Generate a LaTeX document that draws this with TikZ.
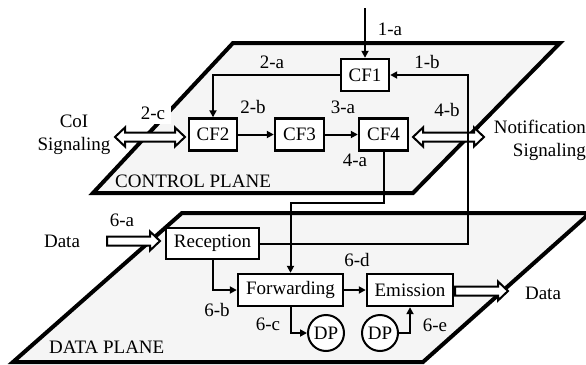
\documentclass[tikz,border=0pt]{standalone}
\usepackage{fontspec}
\setmainfont{Liberation Serif}
\usetikzlibrary{arrows.meta,calc}
\definecolor{planefill}{RGB}{245,245,245}
\newcommand\hollowR[2]{\draw[hollow] let \p1=(#1), \p2=(#2) in
  (\x1,\y1+4.5pt) -- (\x2-10pt,\y1+4.5pt) -- (\x2-10pt,\y1+9.5pt) -- (\x2,\y1) --
  (\x2-10pt,\y1-9.5pt) -- (\x2-10pt,\y1-4.5pt) -- (\x1,\y1-4.5pt) -- cycle;}
\newcommand\hollowLR[2]{\draw[hollow] let \p1=(#1), \p2=(#2) in
  (\x1,\y1) -- (\x1+10pt,\y1+9.5pt) -- (\x1+10pt,\y1+4.5pt) -- (\x2-10pt,\y1+4.5pt) -- (\x2-10pt,\y1+9.5pt) -- (\x2,\y1) --
  (\x2-10pt,\y1-9.5pt) -- (\x2-10pt,\y1-4.5pt) -- (\x1+10pt,\y1-4.5pt) -- (\x1+10pt,\y1-9.5pt) -- cycle;}
\begin{document}
\begin{tikzpicture}[x=1pt,y=-1pt,font=\fontsize{19}{23}\selectfont,
  plane/.style={fill=planefill,draw=black,line width=4pt},
  fbox/.style={draw,line width=2.4pt,fill=white,minimum height=32pt,inner sep=2pt},
  lbl/.style={inner sep=1pt},
  conn/.style={line width=2pt,-{Triangle[length=7pt,width=7pt]}},
  hollow/.style={draw,line width=2pt,fill=white,line join=miter},
  dpc/.style={circle,draw,line width=2pt,fill=white,minimum size=36pt,inner sep=0pt}]
\useasboundingbox (0,0) rectangle (586,364);
% planes
\draw[plane] (182,213) -- (590,213) -- (423,362) -- (13,362) -- cycle;
\draw[plane] (233,43) -- (560,43) -- (413,193) -- (93,193) -- cycle;
\node[anchor=west,inner sep=0pt] (cpl) at (115,181) {CONTROL PLANE};
\node[anchor=west,inner sep=0pt] (dpl) at (49,347) {DATA PLANE};
% white-backed labels
\node[fill=white,inner sep=0pt,minimum width=36pt,minimum height=22pt] (l2c) at (153,113) {2-c};
\node[fill=white,align=right,anchor=east,inner sep=3pt] (notif) at (589,140) {Notification\\Signaling};
\node[align=center,inner sep=0pt] (coi) at (74,135) {CoI\\Signaling};
\node[inner sep=0pt] (dataL) at (62,241) {Data};
\node[inner sep=0pt] (dataR) at (543,293) {Data};
% boxes
\node[fbox,minimum width=48pt] (cf1) at (365,75) {CF1};
\node[fbox,minimum width=48pt] (cf2) at (213,134.5) {CF2};
\node[fbox,minimum width=49pt] (cf3) at (299.5,134.5) {CF3};
\node[fbox,minimum width=49pt] (cf4) at (383.5,134.5) {CF4};
\node[fbox,minimum width=93pt,minimum height=31pt] (rec) at (212.5,243.5) {Reception};
\node[fbox,minimum width=105pt] (fwd) at (290.5,290) {Forwarding};
\node[fbox,minimum width=86pt] (emi) at (410,290) {Emission};
\node[dpc] (dp1) at (326,333) {DP};
\node[dpc] (dp2) at (380,333) {DP};
% hollow arrows
\coordinate (a2cL) at (115,137);
\coordinate (a2cR) at (185,137);
\coordinate (a4bL) at (413,137);
\coordinate (a4bR) at (484,137);
\coordinate (a6aL) at (107,241);
\coordinate (a6aR) at (160,241);
\coordinate (aoL) at (455,291);
\coordinate (aoR) at (508,291);
\hollowLR{a2cL}{a2cR}
\hollowLR{a4bL}{a4bR}
\hollowR{a6aL}{a6aR}
\hollowR{aoL}{aoR}
% connectors
\coordinate (top) at (365,8);
\coordinate (rt) at (468,75);
\coordinate (mid) at (384,203);
\draw[conn] (top) -- (cf1.north);
\draw[conn] (rec.east) -| (rt) -- (cf1.east);
\draw[conn] (cf1.west) -| (cf2.north);
\draw[conn] (cf2) -- (cf3);
\draw[conn] (cf3) -- (cf4);
\draw[conn] (cf4.south) -- (cf4.south |- mid) -| (fwd.north);
\draw[conn] (rec.south) |- (fwd.west);
\draw[conn] (fwd) -- (emi);
\draw[conn] (fwd.south) |- (dp1.west);
\draw[conn] (dp2.east) -| (emi.south);
% labels
\node[lbl] (l1a) at (390,29) {1-a};
\node[lbl] (l1b) at (427,62) {1-b};
\node[lbl] (l2a) at (272,62) {2-a};
\node[lbl] (l2b) at (253,107) {2-b};
\node[lbl] (l3a) at (343,107) {3-a};
\node[lbl] (l4b) at (447,110) {4-b};
\node[lbl] (l4a) at (355,160) {4-a};
\node[lbl] (l6a) at (122,220) {6-a};
\node[lbl] (l6b) at (217,310) {6-b};
\node[lbl] (l6c) at (268,324) {6-c};
\node[lbl] (l6d) at (357,260) {6-d};
\node[lbl] (l6e) at (435,325) {6-e};
\end{tikzpicture}
\end{document}
